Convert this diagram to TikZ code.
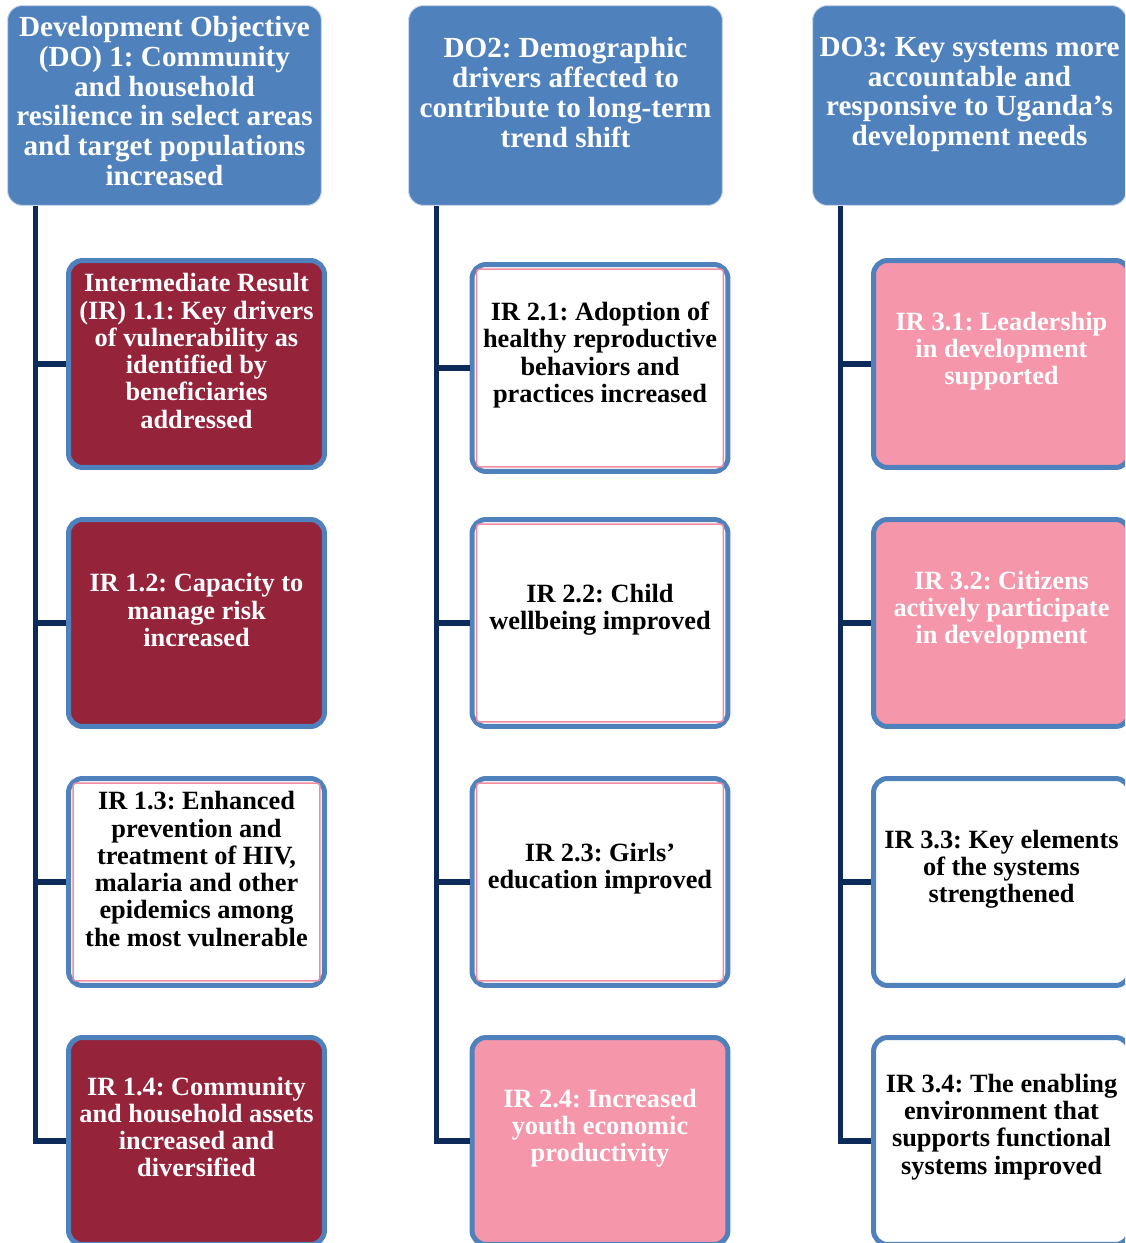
\documentclass[tikz,border=0pt]{standalone}
\usepackage{fontspec}
\setmainfont{Liberation Serif}
\usetikzlibrary{positioning,calc}
\definecolor{doblue}{HTML}{4F81BD}
\definecolor{doedge}{HTML}{C9D6EA}
\definecolor{irred}{HTML}{95233A}
\definecolor{irpink}{HTML}{F696AA}
\definecolor{pinkline}{HTML}{F08BA0}
\definecolor{navy}{HTML}{0C2A5A}
\frenchspacing
\tikzset{%
  every objective/.style={
    rectangle,
    rounded corners=0.3cm,
    fill=doblue,
    draw=doedge,
    line width=0.02cm,
    minimum width=6.28cm,
    minimum height=4cm
  },
  every result/.style={
    rectangle,
    rounded corners=0.28cm,
    draw=doblue,
    line width=0.1cm,
    minimum width=5.12cm,
    minimum height=4.14cm
  },
  result red/.style={fill=irred},
  result pink/.style={fill=irpink},
  result white/.style={fill=white},
  result lined/.style={fill=white},
  pink inset/.style={draw=pinkline, line width=0.03cm, rounded corners=0.06cm},
  trunk/.style={draw=navy, line width=0.11cm},
  do text/.style={text=white, align=center, font=\fontsize{16.6}{17}\selectfont\bfseries},
  ir text/.style={align=center, font=\fontsize{15}{15.5}\selectfont\bfseries},
}

\begin{document}
\begin{tikzpicture}[x=0.02cm, y=-0.02cm]
        \useasboundingbox (0,0) rectangle (1125,1243);
        \clip (0,0) rectangle (1125,1243);

        \foreach \x [count=\c] in {164.5,565.5,969.5}
            \node [every objective/.try] (do-\c) at (\x,105.5) {};
        \foreach \m [count=\y] in {red,red,lined,red}
            \node [every result/.try, result \m/.try] (ir1-\y) at (196.5,{105+259*\y}) {};
        \foreach \m [count=\y] in {lined,lined,lined,pink}
            \node [every result/.try, result \m/.try] (ir2-\y) at (600,{105+259*\y+ifthenelse(\y==1,4,0)}) {};
        \foreach \m [count=\y] in {pink,pink,white,white}
            \node [every result/.try, result \m/.try] (ir3-\y) at (1001.5,{105+259*\y}) {};

        \foreach \n in {ir1-3,ir2-1,ir2-2,ir2-3}
            \draw [pink inset] ([shift={(0.14cm,-0.14cm)}]\n.north west) rectangle ([shift={(-0.14cm,0.14cm)}]\n.south east);

        \foreach \c in {1,2,3} {
            \coordinate (stem-\c) at ([xshift=0.57cm]do-\c.south west);
            \draw [trunk] (stem-\c) |- (ir\c-4.west);
            \foreach \r in {1,2,3}
              \draw [trunk] (ir\c-\r.west) -- (ir\c-\r.west -| stem-\c);
        }

        \node [do text] (t-do1) at ([yshift=0.09cm]do-1.center) {Development Objective\\(DO) 1: Community\\and household\\resilience in select areas\\and target populations\\increased};
        \node [do text] (t-do2) at ([yshift=0.26cm]do-2.center) {DO2: Demographic\\drivers affected to\\contribute to long-term\\trend shift};
        \node [do text] (t-do3) at ([yshift=0.22cm]do-3.center) {DO3: Key systems more\\accountable and\\responsive to Uganda’s\\development needs};

        \node [ir text, white] (t1-1) at ([yshift=0.26cm]ir1-1.center) {Intermediate Result\\(IR) 1.1: Key drivers\\of vulnerability as\\identified by\\beneficiaries\\addressed};
        \node [ir text, white] (t1-2) at ([yshift=0.26cm]ir1-2.center) {IR 1.2: Capacity to\\manage risk\\increased};
        \node [ir text] (t1-3) at ([yshift=0.26cm]ir1-3.center) {IR 1.3: Enhanced\\prevention and\\treatment of HIV,\\malaria and other\\epidemics among\\the most vulnerable};
        \node [ir text, white] (t1-4) at ([yshift=0.28cm]ir1-4.center) {IR 1.4: Community\\and household assets\\increased and\\diversified};

        \node [ir text] (t2-1) at ([yshift=0.26cm]ir2-1.center) {IR 2.1: Adoption of\\healthy reproductive\\behaviors and\\practices increased};
        \node [ir text] (t2-2) at ([yshift=0.26cm]ir2-2.center) {IR 2.2: Child\\wellbeing improved};
        \node [ir text] (t2-3) at ([yshift=0.26cm]ir2-3.center) {IR 2.3: Girls’\\education improved};
        \node [ir text, white] (t2-4) at ([yshift=0.26cm]ir2-4.center) {IR 2.4: Increased\\youth economic\\productivity};

        \node [ir text, white] (t3-1) at ([yshift=0.26cm]ir3-1.center) {IR 3.1: Leadership\\in development\\supported};
        \node [ir text, white] (t3-2) at ([yshift=0.26cm]ir3-2.center) {IR 3.2: Citizens\\actively participate\\in development};
        \node [ir text] (t3-3) at ([yshift=0.26cm]ir3-3.center) {IR 3.3: Key elements\\of the systems\\strengthened};
        \node [ir text] (t3-4) at ([yshift=0.28cm]ir3-4.center) {IR 3.4: The enabling\\environment that\\supports functional\\systems improved};
\end{tikzpicture}
\end{document}
